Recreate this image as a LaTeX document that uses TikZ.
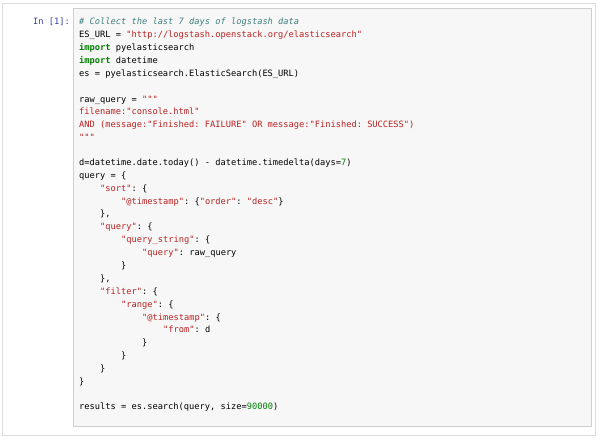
\documentclass[tikz,border=0pt]{standalone}
\usepackage{fontspec}
\setmainfont{DejaVu Sans}
\setmonofont{DejaVu Sans Mono}
\usetikzlibrary{positioning}
\definecolor{cmt}{HTML}{408080}
\definecolor{str}{HTML}{BA2121}
\definecolor{kw}{HTML}{008000}
\definecolor{prompt}{HTML}{303F9F}
\definecolor{cellbg}{HTML}{F7F7F7}
\definecolor{cellbd}{HTML}{CFCFCF}
\newcommand{\cm}[1]{\textcolor{cmt}{\itshape #1}}
\newcommand{\st}[1]{\textcolor{str}{#1}}
\newcommand{\kw}[1]{\textcolor{kw}{\bfseries #1}}
\newcommand{\nm}[1]{\textcolor{kw}{#1}}
\tikzset{font=\ttfamily\fontsize{8.7}{10}\selectfont}

\begin{document}
\begin{tikzpicture}[x=1pt,y=-1pt]
	\tikzstyle{every node}=[anchor=base west, inner sep=0pt]
	\useasboundingbox (0,0) rectangle (600,440);
	\draw [cellbd!70, line width=1pt] (2,3) rectangle (595,435);
	\draw [cellbd, fill=cellbg] (73,8) rectangle (591,426);

	\node [text=prompt, anchor=base east] (prompt) at (70,24) {In [1]:};

	\node (l1) at (79,24) {\cm{\# Collect the last 7 days of logstash data}};
	\node (l2) at (79,37) {ES\_URL = \st{"http://logstash.openstack.org/elasticsearch"}};
	\node (l3) at (79,50) {\kw{import} pyelasticsearch};
	\node (l4) at (79,63) {\kw{import} datetime};
	\node (l5) at (79,76) {es = pyelasticsearch.ElasticSearch(ES\_URL)};

	\node (l6) at (79,102) {raw\_query = \st{"""}};
	\node (l7) at (79,114) {\st{filename:"console.html"}};
	\node (l8) at (79,127) {\st{AND (message:"Finished: FAILURE" OR message:"Finished: SUCCESS")}};
	\node (l9) at (79,140) {\st{"""}};

	\node (l10) at (79,165) {d=datetime.date.today() - datetime.timedelta(days=\nm{7})};
	\node (l11) at (79,178) {query = \{};
	\node (l12) at (100,191) {\st{"sort"}: \{};
	\node (l13) at (121,204) {\st{"@timestamp"}: \{\st{"order"}: \st{"desc"}\}};
	\node (l14) at (100,216) {\},};
	\node (l15) at (100,229) {\st{"query"}: \{};
	\node (l16) at (121,242) {\st{"query\_string"}: \{};
	\node (l17) at (142,255) {\st{"query"}: raw\_query};
	\node (l18) at (121,268) {\}};
	\node (l19) at (100,281) {\},};
	\node (l20) at (100,294) {\st{"filter"}: \{};
	\node (l21) at (121,307) {\st{"range"}: \{};
	\node (l22) at (142,320) {\st{"@timestamp"}: \{};
	\node (l23) at (163,332) {\st{"from"}: d};
	\node (l24) at (142,345) {\}};
	\node (l25) at (121,358) {\}};
	\node (l26) at (100,371) {\}};
	\node (l27) at (79,384) {\}};

	\node (l28) at (79,409) {results = es.search(query, size=\nm{90000})};
\end{tikzpicture}
\end{document}
